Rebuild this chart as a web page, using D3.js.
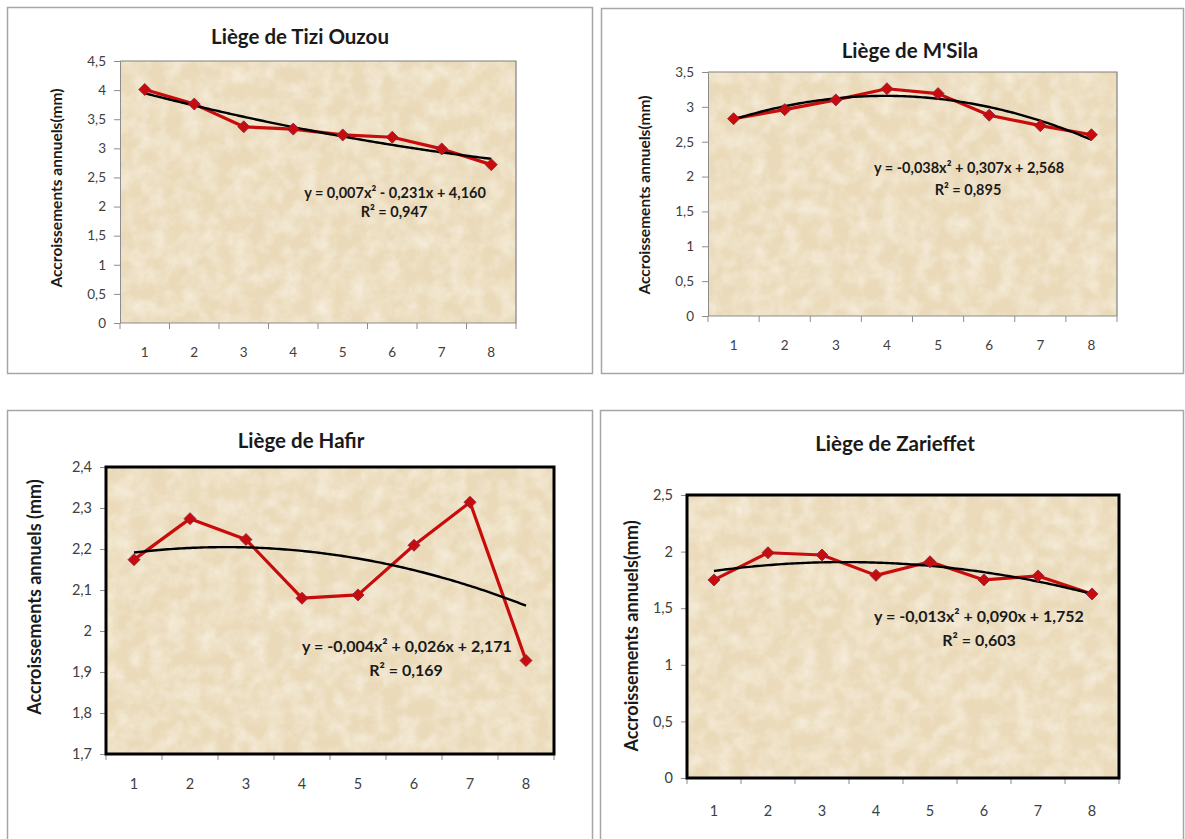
<!DOCTYPE html>
<html><head><meta charset="utf-8">
<script src="https://cdn.jsdelivr.net/npm/d3@7"></script>
<style>
body{margin:0;background:#fff;}
svg{display:block;font-family:Lato,'Open Sans',sans-serif;}
</style>
</head><body>
<svg id="chart" width="1185" height="839"></svg>
<script>
// Annual growth increments (mm) for years 1..8, one series per cork site
const categories = [1, 2, 3, 4, 5, 6, 7, 8];
const tiziOuzou = [4.01, 3.76, 3.37, 3.33, 3.23, 3.19, 2.99, 2.72];
const mSila     = [2.83, 2.96, 3.10, 3.26, 3.19, 2.88, 2.73, 2.60];
const hafir     = [2.174, 2.274, 2.223, 2.080, 2.088, 2.209, 2.314, 1.928];
const zarieffet = [1.75, 1.99, 1.97, 1.79, 1.91, 1.75, 1.785, 1.626];

const tiziTicks      = [0, 0.5, 1, 1.5, 2, 2.5, 3, 3.5, 4, 4.5];
const mSilaTicks     = [0, 0.5, 1, 1.5, 2, 2.5, 3, 3.5];
const hafirTicks     = [1.7, 1.8, 1.9, 2, 2.1, 2.2, 2.3, 2.4];
const zarieffetTicks = [0, 0.5, 1, 1.5, 2, 2.5];

const titles  = ["Liège de Tizi Ouzou", "Liège de M'Sila", "Liège de Hafir", "Liège de Zarieffet"];
const yTitles = ["Accroissements annuels(mm)", "Accroissements annuels(mm)",
                 "Accroissements annuels (mm)", "Accroissements annuels(mm)"];
const equations = ["y = 0,007x² - 0,231x + 4,160", "y = -0,038x² + 0,307x + 2,568",
                   "y = -0,004x² + 0,026x + 2,171", "y = -0,013x² + 0,090x + 1,752"];
const rSquared  = ["R² = 0,947", "R² = 0,895", "R² = 0,169", "R² = 0,603"];

// Panel layout (pixels)
const panels = [
  {values: tiziOuzou, ticks: tiziTicks, frame: [7, 7, 592, 373], plot: [120, 61, 516, 323],
   title: [300, 44], yTitle: [58, 188], eq: [395, 198], r2: [394, 217], xLab: 357, big: false},
  {values: mSila, ticks: mSilaTicks, frame: [601, 8, 1183, 373], plot: [708, 72, 1117, 316],
   title: [910, 58], yTitle: [646, 195], eq: [969, 173], r2: [968, 195], xLab: 350, big: false},
  {values: hafir, ticks: hafirTicks, frame: [7, 410, 592, 860], plot: [106, 467, 554, 754],
   title: [301, 448], yTitle: [36, 597], eq: [407, 652], r2: [406, 676], xLab: 789, big: true},
  {values: zarieffet, ticks: zarieffetTicks, frame: [600, 410, 1183, 860], plot: [687, 495, 1119, 778],
   title: [895, 451], yTitle: [633, 636], eq: [979, 622], r2: [979, 646], xLab: 816, big: true}
];

const fmt = d3.formatLocale({decimal: ",", thousands: " ", grouping: [3], currency: ["", ""]}).format(".1~f");

// Least-squares quadratic fit y = a x^2 + b x + c
function quadFit(xs, ys) {
  const s = k => d3.sum(xs, x => Math.pow(x, k));
  const t = k => d3.sum(xs, (x, i) => Math.pow(x, k) * ys[i]);
  const M = [[s(4), s(3), s(2), t(2)], [s(3), s(2), s(1), t(1)], [s(2), s(1), xs.length, t(0)]];
  for (let i = 0; i < 3; i++) {
    for (let j = i + 1; j < 3; j++) {
      const f = M[j][i] / M[i][i];
      for (let k = i; k < 4; k++) M[j][k] -= f * M[i][k];
    }
  }
  const r = [0, 0, 0];
  for (let i = 2; i >= 0; i--) {
    let v = M[i][3];
    for (let k = i + 1; k < 3; k++) v -= M[i][k] * r[k];
    r[i] = v / M[i][i];
  }
  return x => r[0] * x * x + r[1] * x + r[2];
}

const svg = d3.select("#chart");
const defs = svg.append("defs");

// fine-grained parchment: a light speckle and a soft darker mottle
const paperLight = defs.append("filter").attr("id", "paperLight")
  .attr("x", 0).attr("y", 0).attr("width", 1).attr("height", 1);
paperLight.append("feTurbulence").attr("type", "fractalNoise").attr("baseFrequency", 0.06)
  .attr("numOctaves", 4).attr("seed", 4).attr("result", "noise");
paperLight.append("feColorMatrix").attr("in", "noise").attr("type", "matrix")
  .attr("values", "0 0 0 0 0.97  0 0 0 0 0.93  0 0 0 0 0.86  1.1 0 0 0 -0.38");

const paperDark = defs.append("filter").attr("id", "paperDark")
  .attr("x", 0).attr("y", 0).attr("width", 1).attr("height", 1);
paperDark.append("feTurbulence").attr("type", "fractalNoise").attr("baseFrequency", 0.015)
  .attr("numOctaves", 4).attr("seed", 11).attr("result", "noise");
paperDark.append("feColorMatrix").attr("in", "noise").attr("type", "matrix")
  .attr("values", "0 0 0 0 0.84  0 0 0 0 0.72  0 0 0 0 0.52  1.1 0 0 0 -0.45");

panels.forEach((p, i) => {
  const g = svg.append("g");
  const [fx0, fy0, fx1, fy1] = p.frame;
  const [px0, py0, px1, py1] = p.plot;

  g.append("rect").attr("x", fx0 + 0.5).attr("y", fy0 + 0.5)
    .attr("width", fx1 - fx0).attr("height", fy1 - fy0)
    .attr("fill", "#fff").attr("stroke", "#a6a6a6").attr("stroke-width", 1.5);

  const x = d3.scaleBand().domain(categories).range([px0, px1]).padding(0);
  const y = d3.scaleLinear().domain(d3.extent(p.ticks)).range([py1, py0]);
  const cx = d => x(d) + x.bandwidth() / 2;
  const xLin = d3.scaleLinear().domain([categories[0], categories[categories.length - 1]])
    .range([cx(categories[0]), cx(categories[categories.length - 1])]);

  // plot area parchment
  const area = () => g.append("rect").attr("x", px0).attr("y", py0)
    .attr("width", px1 - px0).attr("height", py1 - py0);
  area().attr("fill", "#eadab9");
  area().attr("fill", "#fff").attr("filter", "url(#paperDark)");
  area().attr("fill", "#fff").attr("filter", "url(#paperLight)");

  const tickFont = p.big ? 14.5 : 13.5;

  // y axis
  const yAxis = g.append("g").attr("transform", `translate(${px0},0)`)
    .call(d3.axisLeft(y).tickValues(p.ticks).tickFormat(fmt).tickSize(6).tickPadding(8).tickSizeOuter(0));
  yAxis.select(".domain").attr("stroke", "#8c8c8c");
  yAxis.selectAll(".tick line").attr("stroke", "#8c8c8c");
  yAxis.selectAll("text").attr("fill", "#404040").attr("font-size", tickFont)
    .attr("font-family", "Lato, sans-serif");

  // x axis: ticks on category boundaries, labels at category centers
  const bounds = categories.map(c => x(c)).concat([px1]);
  const xg = g.append("g");
  xg.append("line").attr("x1", px0).attr("x2", px1).attr("y1", py1).attr("y2", py1).attr("stroke", "#8c8c8c");
  xg.selectAll("line.tk").data(bounds).join("line").attr("class", "tk")
    .attr("x1", d => d).attr("x2", d => d).attr("y1", py1).attr("y2", py1 + 6).attr("stroke", "#8c8c8c");
  xg.selectAll("text").data(categories).join("text")
    .attr("x", cx).attr("y", p.xLab).attr("text-anchor", "middle")
    .attr("fill", "#404040").attr("font-size", tickFont).text(d => d);

  // plot area frame
  if (p.big) {
    g.append("rect").attr("x", px0).attr("y", py0).attr("width", px1 - px0).attr("height", py1 - py0)
      .attr("fill", "none").attr("stroke", "#000").attr("stroke-width", 3);
  } else {
    g.append("path").attr("d", `M${px0},${py0}H${px1}V${py1}`)
      .attr("fill", "none").attr("stroke", "#808080").attr("stroke-width", 1.2);
  }

  // data line
  const line = d3.line().x((d, k) => cx(categories[k])).y(d => y(d));
  g.append("path").datum(p.values).attr("d", line)
    .attr("fill", "none").attr("stroke", "#c80c0c").attr("stroke-width", 3.2).attr("stroke-linejoin", "round");

  // polynomial trend (order 2)
  const f = quadFit(categories, p.values);
  const xs = d3.range(categories[0], categories[categories.length - 1] + 0.001, 0.05);
  g.append("path").datum(xs)
    .attr("d", d3.line().x(d => xLin(d)).y(d => y(f(d))))
    .attr("fill", "none").attr("stroke", "#000").attr("stroke-width", 2.4);

  // diamond markers
  const diamond = d3.symbol().type(d3.symbolSquare).size(72);
  g.selectAll("path.mk").data(p.values).join("path").attr("class", "mk")
    .attr("d", diamond)
    .attr("transform", (d, k) => `translate(${cx(categories[k])},${y(d)}) rotate(45)`)
    .attr("fill", "#c80c0c").attr("stroke", "#8a2050").attr("stroke-width", 0.8);

  // titles
  g.append("text").attr("x", p.title[0]).attr("y", p.title[1]).attr("text-anchor", "middle")
    .attr("font-weight", "bold").attr("font-size", 20.5).attr("fill", "#1a1a1a")
    .text(titles[i]);
  g.append("text").attr("transform", `translate(${p.yTitle[0]},${p.yTitle[1]}) rotate(-90)`)
    .attr("text-anchor", "middle").attr("dominant-baseline", "middle")
    .attr("font-weight", "bold").attr("font-size", p.big ? 18 : 15.5).attr("fill", "#1a1a1a")
    .text(yTitles[i]);

  // trend equation
  const eqSize = p.big ? 16 : 14.5;
  g.append("text").attr("x", p.eq[0]).attr("y", p.eq[1]).attr("text-anchor", "middle")
    .attr("font-weight", "bold").attr("font-size", eqSize).attr("fill", "#1a1a1a").text(equations[i]);
  g.append("text").attr("x", p.r2[0]).attr("y", p.r2[1]).attr("text-anchor", "middle")
    .attr("font-weight", "bold").attr("font-size", eqSize).attr("fill", "#1a1a1a").text(rSquared[i]);
});
</script>
</body></html>
